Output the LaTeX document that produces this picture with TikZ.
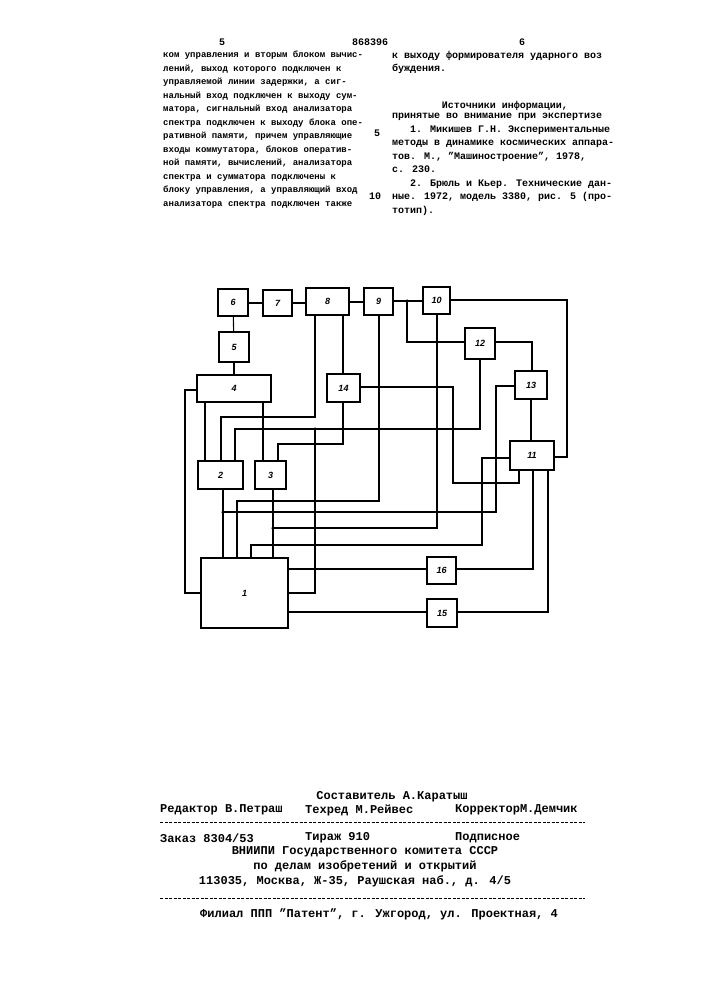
\documentclass[tikz,border=0pt]{standalone}
\usepackage{fontspec}
\setmainfont[Ligatures=ResetAll]{Liberation Mono}
\newfontfamily\lblfont{Liberation Sans}
\newcommand{\qq}{''}
\begin{document}
\begin{tikzpicture}[x=1pt,y=-1pt,
  blk/.style={draw,line width=1.1pt,inner sep=0pt,font=\lblfont\bfseries\itshape\fontsize{9}{9}\selectfont},
  w/.style={line width=1.1pt},
  dotc/.style={circle,fill,inner sep=0pt,minimum size=3.5pt},
  txt/.style={anchor=west,inner sep=0pt,font=\bfseries\fontsize{9}{13.5}\selectfont,align=left},
  rtxt/.style={anchor=west,inner sep=0pt,font=\bfseries\fontsize{10}{13.5}\selectfont,align=left},
  ftxt/.style={anchor=west,inner sep=0pt,font=\bfseries\fontsize{12}{14}\selectfont},
  fctxt/.style={inner sep=0pt,font=\bfseries\fontsize{12}{14}\selectfont},
  ctxt/.style={inner sep=0pt,font=\bfseries\fontsize{10}{13.5}\selectfont}]
\useasboundingbox (0,0) rectangle (707,1000);
\fill[white] (0,0) rectangle (707,1000);
% text header
\node[ctxt] (h1) at (222,42) {5};
\node[ctxt] (h2) at (370,42) {868396};
\node[ctxt] (h3) at (522,42) {6};
\node[txt,anchor=north west] (tl) at (163,51) {ком управления и вторым блоком вычис-\\лений, выход которого подключен к\\управляемой линии задержки, а сиг-\\нальный вход подключен к выходу сум-\\матора, сигнальный вход анализатора\\спектра подключен к выходу блока опе-\\ративной памяти, причем управляющие\\входы коммутатора, блоков оператив-\\ной памяти, вычислений, анализатора\\спектра и сумматора подключены к\\блоку управления, а управляющий вход\\анализатора спектра подключен также};
\node[rtxt,anchor=north west] (tr1) at (392,51) {к выходу формирователя ударного воз\\буждения.};
\node[ctxt] (tr2) at (505,106) {Источники информации,};
\node[rtxt,anchor=north west] (tr3) at (392,113) {принятые во внимание при экспертизе\\\ \ \ 1. Микишев Г.Н. Экспериментальные\\методы в динамике космических аппара-\\тов. М., \qq Машиностроение\qq, 1978,\\с. 230.\\\ \ \ 2. Брюль и Кьер. Технические дан-\\ные. 1972, модель 3380, рис. 5 (про-\\тотип).};
\node[ctxt] (ln5) at (377,133) {5};
\node[ctxt] (ln10) at (375,196) {10};
% blocks
\node[blk,minimum width=30pt,minimum height=27pt] (n6) at (233,302.5) {6};
\node[blk,minimum width=29pt,minimum height=26pt] (n7) at (277.5,303) {7};
\node[blk,minimum width=43pt,minimum height=27pt] (n8) at (327.5,301.5) {8};
\node[blk,minimum width=29pt,minimum height=27pt] (n9) at (378.5,301.5) {9};
\node[blk,minimum width=27pt,minimum height=27pt] (n10) at (436.5,300.5) {10};
\node[blk,minimum width=30pt,minimum height=30pt] (n5) at (234,347) {5};
\node[blk,minimum width=74pt,minimum height=27pt] (n4) at (234,388.5) {4};
\node[blk,minimum width=33pt,minimum height=28pt] (n14) at (343.5,388) {14};
\node[blk,minimum width=30pt,minimum height=31pt] (n12) at (480,343.5) {12};
\node[blk,minimum width=32pt,minimum height=28pt] (n13) at (531,385) {13};
\node[blk,minimum width=44pt,minimum height=29pt] (n11) at (532,455.5) {11};
\node[blk,minimum width=45pt,minimum height=28pt] (n2) at (220.5,475) {2};
\node[blk,minimum width=31pt,minimum height=28pt] (n3) at (270.5,475) {3};
\node[blk,minimum width=87pt,minimum height=70pt] (n1) at (244.5,593) {1};
\node[blk,minimum width=29pt,minimum height=27pt] (n16) at (441.5,570.5) {16};
\node[blk,minimum width=30pt,minimum height=28pt] (n15) at (442,613) {15};
\coordinate (d9) at (407,301);
\coordinate (d12) at (315,429);
\coordinate (d2) at (223,512);
\coordinate (d3) at (273,528);
\node[dotc] at (d9) {};
\node[dotc] at (d12) {};
\node[dotc] at (d2) {};
\node[dotc] at (d3) {};
% chain
\draw[w] (n6.east |- 0,303) -- (n7.west |- 0,303);
\draw[w] (n7.east |- 0,303) -- (n8.west |- 0,303);
\draw[w] (n8.east |- 0,302) -- (n9.west |- 0,302);
\draw[w] (n9.east |- d9) -- (n10.west |- d9);
\draw[w] (n6) -- (n5);
\draw[w] (n5) -- (n4);
\draw[w] (d9) -- (407,342) -- (n12.west |- 0,342);
\draw[w] (n12.east |- 0,342) -- (532,342) -- (n13.north -| 532,0);
\draw[w] (n10.south -| 437,0) -- (437,528) -- (d3);
\draw[w] (n10.east |- 0,300) -- (567,300) -- (567,457) -- (n11.east |- 0,457);
\draw[w] (n4.west |- 0,390) -- (185,390) -- (185,593) -- (n1.west |- 0,593);
\draw[w] (n4.south -| 205,0) -- (n2.north -| 205,0);
\draw[w] (n4.south -| 263,0) -- (n3.north -| 263,0);
\draw[w] (n8.south -| 315,0) -- (315,417) -- (221,417) -- (n2.north -| 221,0);
\draw[w] (n8.south -| 343,0) -- (n14.north -| 343,0);
\draw[w] (n14.south -| 343,0) -- (343,444) -- (278,444) -- (n3.north -| 278,0);
\draw[w] (n12.south -| 480,0) -- (480,429) -- (235,429) -- (n2.north -| 235,0);
\draw[w] (d12) -- (315,593) -- (n1.east |- 0,593);
\draw[w] (n14.east |- 0,387) -- (453,387) -- (453,483) -- (519,483) -- (n11.south -| 519,0);
\draw[w] (n9.south -| 379,0) -- (379,501) -- (237,501) -- (n1.north -| 237,0);
\draw[w] (n13.west |- 0,386) -- (496,386) -- (496,512) -- (d2);
\draw[w] (n2.south -| 223,0) -- (n1.north -| 223,0);
\draw[w] (n3.south -| 273,0) -- (n1.north -| 273,0);
\draw[w] (n13) -- (n11.north -| n13.south);
\draw[w] (n11.west |- 0,458) -- (482,458) -- (482,545) -- (251,545) -- (n1.north -| 251,0);
\draw[w] (n11.south -| 533,0) -- (533,569) -- (n16.east |- 0,569);
\draw[w] (n16.west |- 0,569) -- (n1.east |- 0,569);
\draw[w] (n11.south -| 548,0) -- (548,612) -- (n15.east |- 0,612);
\draw[w] (n15.west |- 0,612) -- (n1.east |- 0,612);
% footer
\node[fctxt] (f0) at (392,797) {Составитель А.Каратыш};
\node[ftxt] (f1) at (160,810) {Редактор В.Петраш};
\node[ftxt] (f2) at (305,810) {Техред М.Рейвес};
\node[ftxt] (f3) at (455,810) {КорректорМ.Демчик};
\coordinate (dl1a) at (160,822); \coordinate (dl1b) at (585,822);
\draw[line width=0.9pt,dash pattern=on 3pt off 1.5pt] (dl1a) -- (dl1b);
\node[ftxt] (f4) at (160,838) {Заказ 8304/53};
\node[ftxt] (f5) at (305,838) {Тираж 910};
\node[ftxt] (f6) at (455,838) {Подписное};
\node[fctxt] (f7) at (365,852) {ВНИИПИ Государственного комитета СССР};
\node[fctxt] (f8) at (365,866) {по делам изобретений и открытий};
\node[fctxt] (f9) at (355,881) {113035, Москва, Ж-35, Раушская наб., д. 4/5};
\coordinate (dl2a) at (160,898); \coordinate (dl2b) at (585,898);
\draw[line width=0.9pt,dash pattern=on 3pt off 1.5pt] (dl2a) -- (dl2b);
\node[ftxt] (f10) at (200,914) {Филиал ППП \qq Патент\qq, г. Ужгород, ул. Проектная, 4};
\end{tikzpicture}
\end{document}
